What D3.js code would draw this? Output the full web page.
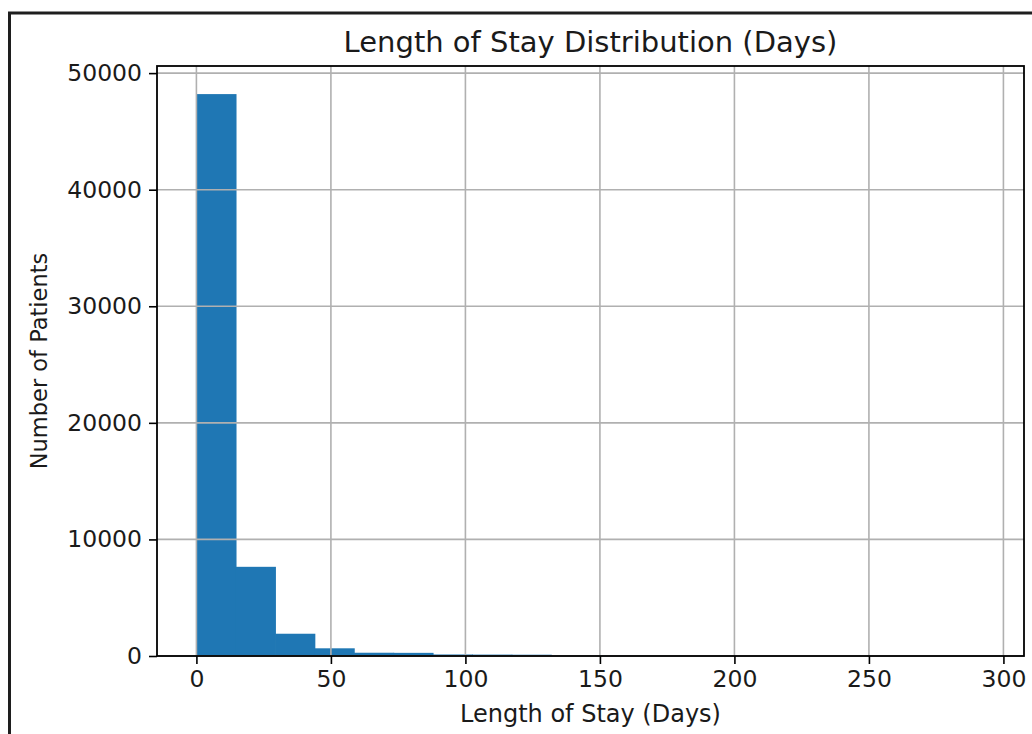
<!DOCTYPE html>
<html>
<head>
<meta charset="utf-8">
<script src="https://cdn.jsdelivr.net/npm/d3@7"></script>
<style>
  body { margin: 0; background: #fff; }
  svg { display: block; }
  text { font-family: "DejaVu Sans", sans-serif; fill: #1a1a1a; }
</style>
</head>
<body>
<div id="chart"></div>
<script>
// histogram bins (days) and patient counts
const binEdges = [0, 14.65, 29.3, 43.95, 58.6, 73.25, 87.9, 102.55, 117.2, 131.85, 146.5,
    161.15, 175.8, 190.45, 205.1, 219.75, 234.4, 249.05, 263.7, 278.35, 293];
const binCounts = [48200, 7650, 1910, 660, 280, 270, 130, 120, 110, 40,
    25, 15, 10, 8, 5, 4, 3, 2, 1, 2];
const xTicks = [0, 50, 100, 150, 200, 250, 300];
const yTicks = [0, 10000, 20000, 30000, 40000, 50000];

const width = 1032;
const height = 734;
const plot = { left: 157, right: 1024, top: 66, bottom: 656 };

const svg = d3.select('#chart')
    .append('svg')
    .attr('width', width)
    .attr('height', height);

svg.append('rect').attr('width', width).attr('height', height).attr('fill', '#fff');

// screenshot frame (left + top)
svg.append('line')
    .attr('x1', 9.5).attr('x2', 9.5).attr('y1', 12).attr('y2', height)
    .attr('stroke', '#1e1e1e').attr('stroke-width', 3);
svg.append('line')
    .attr('x1', 8).attr('x2', width).attr('y1', 13).attr('y2', 13)
    .attr('stroke', '#1e1e1e').attr('stroke-width', 3);

// matplotlib style 5% margins
const span = binEdges[binEdges.length - 1] - binEdges[0];
const x = d3.scaleLinear()
    .domain([binEdges[0] - span * 0.05, binEdges[binEdges.length - 1] + span * 0.05])
    .range([plot.left, plot.right]);
const y = d3.scaleLinear()
    .domain([0, d3.max(binCounts) * 1.05])
    .range([plot.bottom, plot.top]);

const bins = binCounts.map((c, i) => ({ x0: binEdges[i], x1: binEdges[i + 1], count: c }));

// bars overlap a hair so no seams show between neighbours
svg.append('g')
    .selectAll('rect')
    .data(bins)
    .enter()
    .append('rect')
    .attr('x', d => x(d.x0))
    .attr('width', (d, i) => x(d.x1) - x(d.x0) + (i < bins.length - 1 ? 0.7 : 0))
    .attr('y', d => y(d.count))
    .attr('height', d => y(0) - y(d.count))
    .attr('fill', '#1f77b4');

// grid sits above the bars, like matplotlib's default
const grid = svg.append('g').attr('class', 'grid');
grid.selectAll('.vgrid')
    .data(xTicks)
    .enter()
    .append('line')
    .attr('x1', d => x(d)).attr('x2', d => x(d))
    .attr('y1', plot.top).attr('y2', plot.bottom)
    .attr('stroke', '#b0b0b0').attr('stroke-width', 1.6);
grid.selectAll('.hgrid')
    .data(yTicks)
    .enter()
    .append('line')
    .attr('x1', plot.left).attr('x2', plot.right)
    .attr('y1', d => y(d)).attr('y2', d => y(d))
    .attr('stroke', '#b0b0b0').attr('stroke-width', 1.6);

const xAxis = svg.append('g')
    .attr('transform', `translate(0,${plot.bottom})`)
    .call(d3.axisBottom(x).tickValues(xTicks).tickSize(8).tickPadding(6).tickFormat(d3.format('d')));
const yAxis = svg.append('g')
    .attr('transform', `translate(${plot.left},0)`)
    .call(d3.axisLeft(y).tickValues(yTicks).tickSize(8).tickPadding(7).tickFormat(d3.format('d')));

[xAxis, yAxis].forEach(ax => {
    ax.select('.domain').remove();
    ax.selectAll('.tick line').attr('stroke', '#000').attr('stroke-width', 1.6);
    ax.selectAll('.tick text')
        .attr('font-size', 23.5)
        .attr('font-family', '"DejaVu Sans", sans-serif')
        .attr('fill', '#1a1a1a');
});

// frame of the axes
svg.append('rect')
    .attr('x', plot.left).attr('y', plot.top)
    .attr('width', plot.right - plot.left)
    .attr('height', plot.bottom - plot.top)
    .attr('fill', 'none')
    .attr('stroke', '#000')
    .attr('stroke-width', 1.8);

svg.append('text')
    .attr('x', (plot.left + plot.right) / 2)
    .attr('y', 52)
    .attr('text-anchor', 'middle')
    .attr('font-size', 29)
    .text('Length of Stay Distribution (Days)');

svg.append('text')
    .attr('x', (plot.left + plot.right) / 2)
    .attr('y', 722)
    .attr('text-anchor', 'middle')
    .attr('font-size', 24)
    .text('Length of Stay (Days)');

svg.append('text')
    .attr('transform', `translate(47,${(plot.top + plot.bottom) / 2}) rotate(-90)`)
    .attr('text-anchor', 'middle')
    .attr('font-size', 22.5)
    .text('Number of Patients');
</script>
</body>
</html>
